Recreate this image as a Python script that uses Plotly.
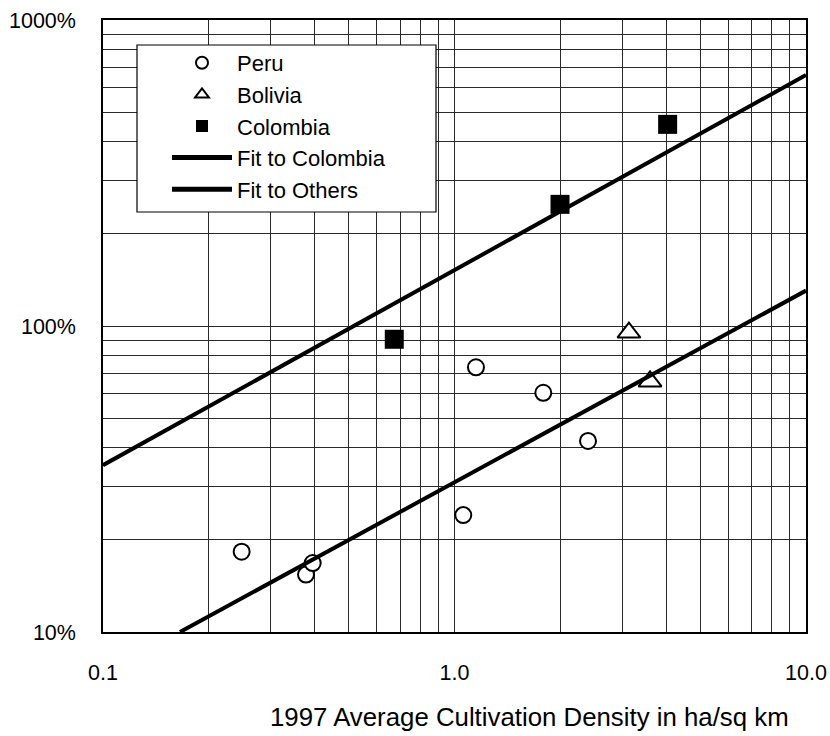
import plotly.graph_objects as go

# ---- data ----
peru_x = [0.248, 0.378, 0.395, 1.059, 1.151, 1.789, 2.398]
peru_y = [18.3, 15.4, 16.8, 24.1, 73.3, 60.5, 42.1]

bolivia_x = [3.135, 3.60]
bolivia_y = [95.2, 65.9]

colombia_x = [0.674, 1.996, 4.04]
colombia_y = [90.5, 249.8, 456.0]

fit_colombia_x = [0.1, 10.0]
fit_colombia_y = [35.1, 661.0]

fit_others_x = [0.1656, 10.0]
fit_others_y = [10.0, 130.5]

x_tickvals = [0.1, 1.0, 10.0]
x_ticktext = ["0.1", "1.0", "10.0"]
y_tickvals = [10, 100, 1000]
y_ticktext = ["10%", "100%", "1000%"]

FONT = "Liberation Sans, Arial, Helvetica, sans-serif"

fig = go.Figure()

fig.add_trace(go.Scatter(
    x=peru_x, y=peru_y, mode="markers", name="Peru",
    marker=dict(symbol="circle", size=16, color="white",
                line=dict(color="black", width=2)),
))
fig.add_trace(go.Scatter(
    x=bolivia_x, y=bolivia_y, mode="markers", name="Bolivia",
    marker=dict(symbol="triangle-up", size=20, color="white",
                line=dict(color="black", width=2)),
))
fig.add_trace(go.Scatter(
    x=colombia_x, y=colombia_y, mode="markers", name="Colombia",
    marker=dict(symbol="square", size=19, color="black",
                line=dict(color="black", width=0)),
))
fig.add_trace(go.Scatter(
    x=fit_colombia_x, y=fit_colombia_y, mode="lines", name="Fit to Colombia",
    line=dict(color="black", width=4),
))
fig.add_trace(go.Scatter(
    x=fit_others_x, y=fit_others_y, mode="lines", name="Fit to Others",
    line=dict(color="black", width=4),
))

GRID = "#2a2a2a"

fig.update_xaxes(
    type="log", range=[-1, 1],
    tickvals=x_tickvals, ticktext=x_ticktext,
    showgrid=True, gridcolor=GRID, gridwidth=1,
    minor=dict(dtick="D1", showgrid=True, gridcolor=GRID, gridwidth=1, ticks=""),
    ticks="", ticklabelstandoff=20, automargin=False,
    showline=True, mirror=True, linecolor="black", linewidth=1.5,
    zeroline=False,
    tickfont=dict(family=FONT, size=21.5, color="black"),
)
fig.update_yaxes(
    type="log", range=[1, 3],
    tickvals=y_tickvals, ticktext=y_ticktext,
    showgrid=True, gridcolor=GRID, gridwidth=1,
    minor=dict(dtick="D1", showgrid=True, gridcolor=GRID, gridwidth=1, ticks=""),
    ticks="", ticklabelstandoff=21, automargin=False,
    showline=True, mirror=True, linecolor="black", linewidth=1.5,
    zeroline=False,
    tickfont=dict(family=FONT, size=21.5, color="black"),
)

fig.update_layout(
    width=830, height=736,
    margin=dict(l=103, r=24, t=20, b=104),
    paper_bgcolor="white", plot_bgcolor="white",
    font=dict(family=FONT, color="black"),
    showlegend=True,
    legend=dict(
        x=(167 - 103) / 703, xanchor="left",
        y=(632 - 42) / 612, yanchor="top",
        bgcolor="rgba(0,0,0,0)", borderwidth=0,
        font=dict(family=FONT, size=22, color="black"),
        itemwidth=60, itemsizing="constant",
    ),
    shapes=[dict(
        type="rect", xref="paper", yref="paper",
        x0=(137 - 103) / 703, x1=(436 - 103) / 703,
        y0=(632 - 212) / 612, y1=(632 - 45) / 612,
        fillcolor="white", line=dict(color="black", width=1.2),
        layer="above",
    )],
    annotations=[dict(
        text="1997 Average Cultivation Density in ha/sq km",
        xref="paper", yref="paper",
        x=(791 - 103) / 703, xanchor="right",
        y=(632 - 717) / 612, yanchor="middle",
        showarrow=False,
        font=dict(family=FONT, size=25.8, color="black"),
    )],
)

fig.write_html(
    "out.html",
    config={"displayModeBar": False},
    post_script="document.body.style.margin='0px';document.body.style.overflow='hidden';",
)
